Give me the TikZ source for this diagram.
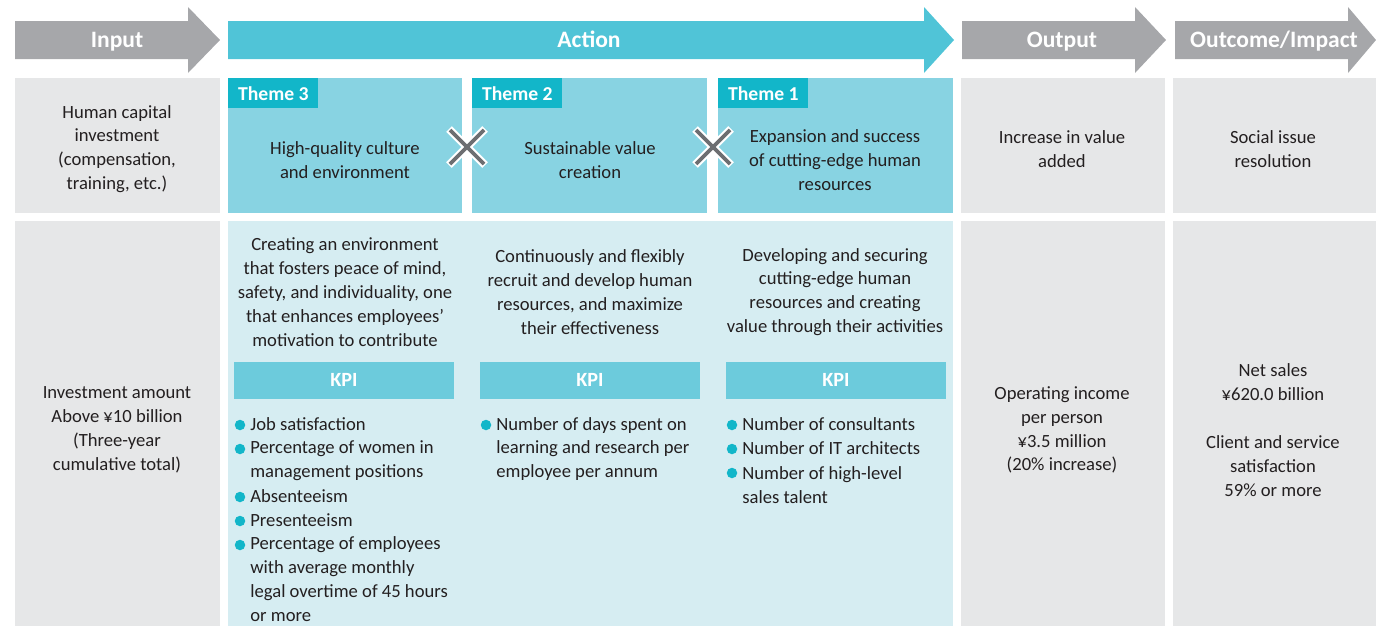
\documentclass[tikz,border=0pt]{standalone}
\usepackage{fontspec}
\setmainfont{Carlito}
\usepackage{tikz}
\usetikzlibrary{positioning,calc}

\definecolor{arrowgray}{HTML}{A6A7AA}
\definecolor{actioncol}{HTML}{50C4D7}
\definecolor{themecol}{HTML}{88D3E2}
\definecolor{tagcol}{HTML}{12B6C9}
\definecolor{lightcol}{HTML}{D6EDF2}
\definecolor{boxgray}{HTML}{E6E7E8}
\definecolor{kpicol}{HTML}{6CCBDC}
\definecolor{ink}{HTML}{231F20}
\definecolor{crossgray}{HTML}{6D6E71}

\begin{document}
\begin{tikzpicture}[x=0.02cm,y=-0.02cm,
  txt/.style={font=\fontsize{10.6}{13.6}\selectfont,text=ink,align=center,inner sep=0pt},
  item/.style={txt,align=left,anchor=west},
  head/.style={font=\fontsize{13.4}{16}\selectfont\bfseries,text=white,inner sep=0pt,anchor=base},
  tag/.style={fill=tagcol,text=white,font=\fontsize{11.2}{13}\selectfont\bfseries,
    anchor=north west,minimum width=1.8cm,minimum height=0.6cm,inner sep=0pt},
  kpibar/.style={fill=kpicol,text=white,font=\fontsize{11.5}{13}\selectfont\bfseries,
    minimum width=4.4cm,minimum height=0.74cm,inner sep=0pt}]
\useasboundingbox (0,0) rectangle (1376,626);
% header arrows
\foreach \a/\b/\t/\c in {15/188/220/arrowgray,228/924/954/actioncol,962/1135/1166/arrowgray,1175/1348/1376/arrowgray}
  \fill[\c] (\a,21) -- (\b,21) -- (\b,7) -- (\t,40) -- (\b,73) -- (\b,59) -- (\a,59) -- cycle;
\node[head] (input) at (117,47) {Input};
\node[head] (action) at (589,47) {Action};
\node[head] (output) at (1062,47) {Output};
\node[head] (outcome) at (1274,47) {Outcome/Impact};
% boxes
\foreach \a/\b in {15/220,961/1165,1173/1376} {
  \fill[boxgray] (\a,78) rectangle (\b,213);
  \fill[boxgray] (\a,221) rectangle (\b,626);
}
\foreach \a/\b in {228/462,472/707,718/953}
  \fill[themecol] (\a,78) rectangle (\b,213);
\fill[lightcol] (228,221) rectangle (953,626);
\node[tag] (tag3) at (228,78) {Theme 3};
\node[tag] (tag2) at (472,78) {Theme 2};
\node[tag] (tag1) at (718,78) {Theme 1};
% crosses
\foreach \x in {467,713} {
  \draw[white,line width=4.6pt] (\x-18,129) -- (\x+18,165) (\x-18,165) -- (\x+18,129);
  \draw[crossgray,line width=2.2pt] (\x-17,130) -- (\x+17,164) (\x-17,164) -- (\x+17,130);
}
% top row texts
\node[txt] (capital) at (117,149) {Human capital\\investment\\(compensation,\\training, etc.)};
\node[txt] (theme3) at (345,160) {High-quality culture\\and environment};
\node[txt] (theme2) at (590,160) {Sustainable value\\creation};
\node[txt] (theme1) at (835,160) {Expansion and success\\of cutting-edge human\\resources};
\node[txt] (value) at (1062,149) {Increase in value\\added};
\node[txt] (social) at (1273,149) {Social issue\\resolution};
% lower row texts
\node[txt] (amount) at (117,430) {Investment amount\\Above ¥10 billion\\(Three-year\\cumulative total)};
\node[txt] (income) at (1062,430) {Operating income\\per person\\¥3.5 million\\(20\% increase)};
\node[txt] (sales) at (1273,430) {Net sales\\¥620.0 billion\\[13.6pt]Client and service\\satisfaction\\59\% or more};
\node[txt] (goal3) at (345,292) {Creating an environment\\that fosters peace of mind,\\safety, and individuality, one\\that enhances employees’\\motivation to contribute};
\node[txt] (goal2) at (590,292) {Continuously and flexibly\\recruit and develop human\\resources, and maximize\\their effectiveness};
\node[txt] (goal1) at (835,292) {Developing and securing\\cutting-edge human\\resources and creating\\value through their activities};
% KPI bars
\node[kpibar] (kpi3) at (344,380) {KPI};
\node[kpibar] (kpi2) at (590,380) {KPI};
\node[kpibar] (kpi1) at (836,380) {KPI};
% KPI items
\node[item] (k3a) at (250,424) {Job satisfaction};
\node[item] (k3b) at (250,461) {Percentage of women in\\management positions};
\node[item] (k3c) at (250,496) {Absenteeism};
\node[item] (k3d) at (250,520) {Presenteeism};
\node[item] (k3e) at (250,579) {Percentage of employees\\with average monthly\\legal overtime of 45 hours\\or more};
\node[item] (k2a) at (496,449) {Number of days spent on\\learning and research per\\employee per annum};
\node[item] (k1a) at (742,424) {Number of consultants};
\node[item] (k1b) at (742,448) {Number of IT architects};
\node[item] (k1c) at (742,485) {Number of high-level\\sales talent};
\foreach \x/\y in {240/425,240/449,240/497,240/521,240/545,486/425,732/425,732/449,732/473}
  \fill[tagcol] (\x,\y) circle (0.105cm);
\end{tikzpicture}
\end{document}
